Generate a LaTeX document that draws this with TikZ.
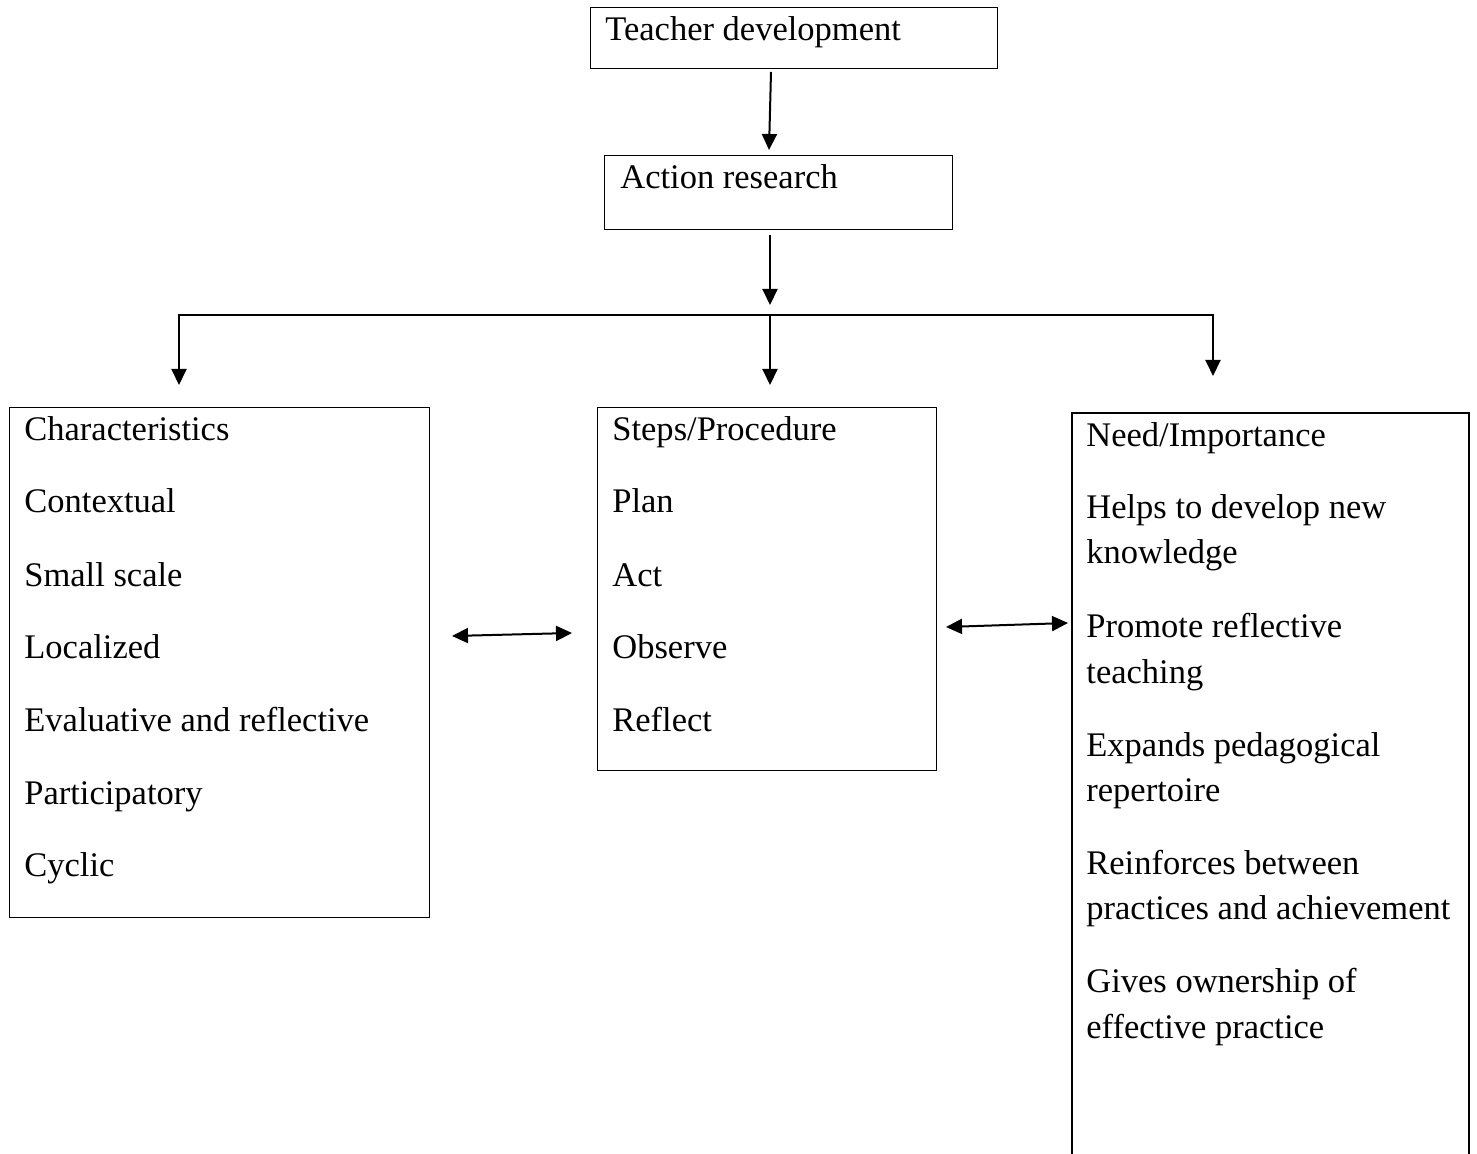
\documentclass[tikz,border=0pt]{standalone}
\usepackage{fontspec}
\setmainfont{Liberation Serif}
\usetikzlibrary{arrows.meta}
\begin{document}
\begin{tikzpicture}[x=0.5pt,y=-0.5pt,
  box/.style={draw,line width=0.6pt,rectangle,anchor=north west,inner sep=0pt},
  txt/.style={anchor=base west,inner sep=0pt,font=\fontsize{17.25pt}{20pt}\selectfont},
  conn/.style={line width=1pt,-{Triangle[length=8pt,width=7.5pt]}},
  dconn/.style={line width=1pt,{Triangle[length=8pt,width=7.5pt]}-{Triangle[length=8pt,width=7.5pt]}}]
\useasboundingbox (0,0) rectangle (1477,1154);
% boxes
\node[box,minimum width=203.5pt,minimum height=30.5pt] (td) at (590,7) {};
\node[box,minimum width=174pt,minimum height=37pt] (ar) at (604,155) {};
\node[box,minimum width=210pt,minimum height=255pt] (ch) at (9,407) {};
\node[box,minimum width=169.5pt,minimum height=181.5pt] (sp) at (597,407) {};
\draw[line width=0.6pt] (1072,1160) -- (1072,413) -- (1469,413) -- (1469,1160);
\coordinate (ni) at (1213,413);
% texts
\node[txt] (tdt) at (605,41) {Teacher development};
\node[txt] (art) at (620,189) {Action research};
\node[txt] (c1) at (24,441) {Characteristics};
\node[txt] (c2) at (24,513) {Contextual};
\node[txt] (c3) at (24,586) {Small scale};
\node[txt] (c4) at (24,658) {Localized};
\node[txt] (c5) at (24,731) {Evaluative and reflective};
\node[txt] (c6) at (24,804) {Participatory};
\node[txt] (c7) at (24,876) {Cyclic};
\node[txt] (s1) at (612,441) {Steps/Procedure};
\node[txt] (s2) at (612,513) {Plan};
\node[txt] (s3) at (612,586) {Act};
\node[txt] (s4) at (612,658) {Observe};
\node[txt] (s5) at (612,731) {Reflect};
\node[txt] (n1) at (1086,447) {Need/Importance};
\node[txt] (n2) at (1086,519) {Helps to develop new};
\node[txt] (n3) at (1086,564) {knowledge};
\node[txt] (n4) at (1086,637) {Promote reflective};
\node[txt] (n5) at (1086,683) {teaching};
\node[txt] (n6) at (1086,756) {Expands pedagogical};
\node[txt] (n7) at (1086,801) {repertoire};
\node[txt] (n8) at (1086,874) {Reinforces between};
\node[txt] (n9) at (1086,919) {practices and achievement};
\node[txt] (n10) at (1086,992) {Gives ownership of};
\node[txt] (n11) at (1086,1038) {effective practice};
% connector coordinates
\coordinate (a1s) at (771,72);
\coordinate (a1e) at (769,150);
\coordinate (a2s) at (770,235);
\coordinate (a2e) at (770,305);
\coordinate (jl) at (179,315);
\coordinate (jm) at (770,315);
\coordinate (jr) at (1213,315);
\coordinate (el) at (179,385);
\coordinate (em) at (770,385);
\coordinate (er) at (1213,376);
\coordinate (d1a) at (452,636);
\coordinate (d1b) at (572,633);
\coordinate (d2a) at (946,627);
\coordinate (d2b) at (1068,623);
% connectors
\draw[conn] (a1s) -- (a1e);
\draw[conn] (a2s) -- (a2e);
\draw[line width=1pt] (el) ++(0,-10) -- (jl) -- (jr) -- ++(0,10);
\draw[conn] (jl) -- (el);
\draw[conn] (jm) -- (em);
\draw[conn] (jr) -- (er);
\draw[dconn] (d1a) -- (d1b);
\draw[dconn] (d2a) -- (d2b);
\end{tikzpicture}
\end{document}
